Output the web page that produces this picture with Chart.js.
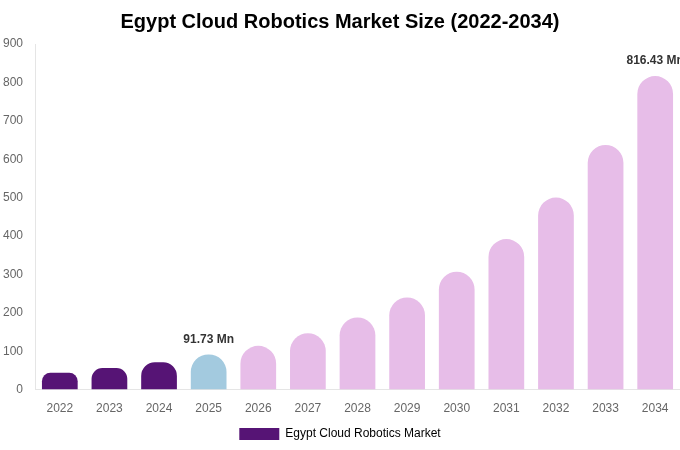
<!DOCTYPE html>
<html>
<head>
<meta charset="utf-8">
<script src="https://cdn.jsdelivr.net/npm/chart.js@4/dist/chart.umd.min.js"></script>
<style>
  html, body { margin: 0; padding: 0; background: #fff; }
  #wrap { width: 680px; height: 450px; }
</style>
</head>
<body>
<div id="wrap"><canvas id="marketChart"></canvas></div>
<script>
// Datos
const years = ['2022', '2023', '2024', '2025', '2026', '2027', '2028', '2029', '2030', '2031', '2032', '2033', '2034'];
const marketSize = [44, 56, 71, 91.73, 114, 147, 188, 240, 307, 392, 500, 637, 816.43];
const barColors = ['#561475', '#561475', '#561475', '#a3cadf', '#e7bde8', '#e7bde8', '#e7bde8', '#e7bde8', '#e7bde8', '#e7bde8', '#e7bde8', '#e7bde8', '#e7bde8'];
const labelledBars = [3, 12];
const yTicks = [0, 100, 200, 300, 400, 500, 600, 700, 800, 900];

Chart.defaults.font.family = "'Liberation Sans', Arial, sans-serif";
Chart.defaults.color = '#666';

// Etiquetas encima de algunas barras
const valueLabels = {
    id: 'valueLabels',
    afterDatasetsDraw(chart) {
        const ctx = chart.ctx;
        const meta = chart.getDatasetMeta(0);
        ctx.save();
        ctx.font = "bold 12px 'Liberation Sans', Arial, sans-serif";
        ctx.fillStyle = '#333';
        ctx.textAlign = 'center';
        ctx.textBaseline = 'bottom';
        labelledBars.forEach(function (i) {
            const bar = meta.data[i];
            ctx.fillText(marketSize[i].toFixed(2) + ' Mn', bar.x, bar.y - 9);
        });
        ctx.restore();
    }
};

new Chart(document.getElementById('marketChart'), {
    type: 'bar',
    data: {
        labels: years,
        datasets: [{
            label: 'Egypt Cloud Robotics Market',
            data: marketSize,
            backgroundColor: barColors,
            borderRadius: { topLeft: 18, topRight: 18 },
            borderSkipped: 'bottom',
            categoryPercentage: 0.8,
            barPercentage: 0.9
        }]
    },
    options: {
        responsive: true,
        maintainAspectRatio: false,
        animation: false,
        layout: { padding: 0 },
        plugins: {
            title: {
                display: true,
                text: 'Egypt Cloud Robotics Market Size (2022-2034)',
                color: '#000',
                font: { size: 20, weight: 'bold' },
                padding: { top: 10, bottom: 10 }
            },
            legend: {
                position: 'bottom',
                labels: {
                    boxWidth: 40,
                    boxHeight: 12,
                    color: '#666',
                    font: { size: 12 },
                    generateLabels: function () {
                        return [{ text: 'Egypt Cloud Robotics Market', fillStyle: barColors[0], strokeStyle: barColors[0], lineWidth: 0, datasetIndex: 0 }];
                    }
                }
            },
            tooltip: { enabled: false }
        },
        scales: {
            x: {
                grid: { display: false },
                border: { display: true, color: '#e5e5e5' },
                ticks: { color: '#666', font: { size: 12 }, padding: 4 },
                afterFit: function (axis) { axis.height -= 2; }
            },
            y: {
                min: 0,
                max: 900,
                afterBuildTicks: function (axis) {
                    axis.ticks = yTicks.map(function (v) { return { value: v }; });
                },
                grid: { display: false },
                border: { display: true, color: '#e5e5e5' },
                ticks: { color: '#666', font: { size: 12 }, padding: 4 },
                afterFit: function (axis) { axis.width = 35; }
            }
        }
    },
    plugins: [valueLabels]
});
</script>
</body>
</html>
